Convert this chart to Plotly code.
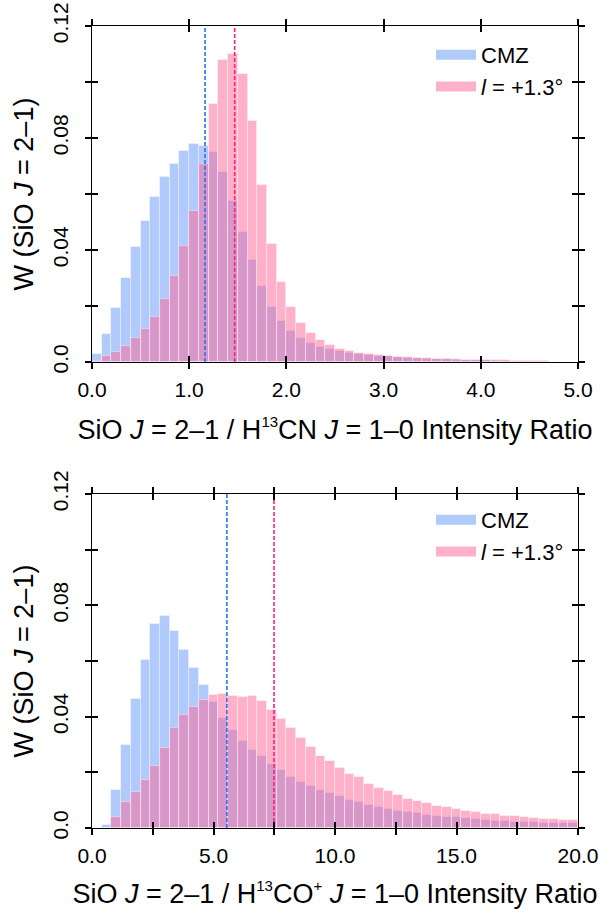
import plotly.graph_objects as go

# ---------------- data ----------------
top_bin_width = 0.1
top_bin_left = [round(0.1 * i, 1) for i in range(50)]
top_cmz = [0.0030, 0.0101, 0.0194, 0.0301, 0.0412, 0.0505, 0.0591, 0.0659, 0.0707, 0.0753,
           0.0778, 0.0772, 0.0750, 0.0679, 0.0574, 0.0465, 0.0363, 0.0272, 0.0197, 0.0145,
           0.0110, 0.0085, 0.0068, 0.0054, 0.0045, 0.0039, 0.0032, 0.0028, 0.0025, 0.0023,
           0.0020, 0.0018, 0.0016, 0.0014, 0.0012, 0.0010, 0.0009, 0.0008, 0.0008, 0.0007,
           0.0006, 0.0005, 0.0005, 0.0005, 0.0004, 0.0004, 0.0003, 0.0001, 0.0001, 0.0000]
top_l13 = [0.0002, 0.0020, 0.0036, 0.0057, 0.0085, 0.0117, 0.0161, 0.0224, 0.0306, 0.0414,
           0.0540, 0.0707, 0.0920, 0.1080, 0.1100, 0.1030, 0.0860, 0.0632, 0.0420, 0.0286,
           0.0197, 0.0138, 0.0102, 0.0077, 0.0060, 0.0048, 0.0038, 0.0031, 0.0028, 0.0026,
           0.0022, 0.0019, 0.0017, 0.0015, 0.0013, 0.0011, 0.0009, 0.0009, 0.0008, 0.0008,
           0.0006, 0.0006, 0.0006, 0.0005, 0.0005, 0.0005, 0.0004, 0.0001, 0.0001, 0.0000]
top_median_cmz = 1.163
top_median_l13 = 1.468

bot_bin_width = 0.4
bot_bin_left = [round(0.4 * i, 1) for i in range(50)]
bot_cmz = [0.0000, 0.0012, 0.0136, 0.0299, 0.0464, 0.0604, 0.0732, 0.0763, 0.0708, 0.0640,
           0.0574, 0.0512, 0.0453, 0.0396, 0.0351, 0.0313, 0.0281, 0.0257, 0.0231, 0.0209,
           0.0185, 0.0167, 0.0151, 0.0137, 0.0124, 0.0114, 0.0102, 0.0095, 0.0084, 0.0077,
           0.0069, 0.0062, 0.0057, 0.0054, 0.0048, 0.0044, 0.0041, 0.0038, 0.0035, 0.0031,
           0.0028, 0.0026, 0.0025, 0.0023, 0.0022, 0.0020, 0.0019, 0.0018, 0.0018, 0.0017]
bot_l13 = [0.0000, 0.0000, 0.0041, 0.0092, 0.0130, 0.0173, 0.0221, 0.0286, 0.0358, 0.0407,
           0.0435, 0.0461, 0.0477, 0.0482, 0.0475, 0.0470, 0.0475, 0.0457, 0.0425, 0.0391,
           0.0358, 0.0322, 0.0292, 0.0258, 0.0240, 0.0217, 0.0194, 0.0184, 0.0159, 0.0142,
           0.0133, 0.0118, 0.0104, 0.0097, 0.0089, 0.0080, 0.0074, 0.0068, 0.0061, 0.0057,
           0.0050, 0.0049, 0.0044, 0.0042, 0.0039, 0.0035, 0.0032, 0.0031, 0.0029, 0.0028]
bot_median_cmz = 5.55
bot_median_l13 = 7.49

top_xticks = [0, 1, 2, 3, 4, 5]
top_xticktext = ["0.0", "1.0", "2.0", "3.0", "4.0", "5.0"]
bot_xticks = [0, 2.5, 5, 7.5, 10, 12.5, 15, 17.5, 20]
bot_xticktext = ["0.0", " ", "5.0", " ", "10.0", " ", "15.0", " ", "20.0"]
yticks = [0, 0.02, 0.04, 0.06, 0.08, 0.10, 0.12]
yticktext = ["0.0", " ", "0.04", " ", "0.08", " ", "0.12"]

series_names = ["CMZ", "<i>l</i> = +1.3°"]

# ---------------- style ----------------
FONT = "Liberation Sans, Arial, Helvetica, sans-serif"
BLUE_FILL = "rgba(100,150,250,0.5)"
PINK_FILL = "rgba(255,100,150,0.5)"
BLUE_LINE = "#2a72f2"
PINK_LINE = "#ff1f78"
EDGE = "rgba(255,255,255,0.5)"

SUP = '<sup><span style="font-size:15px">{}</span></sup>'
top_title = ("SiO <i>J</i> = 2–1 / H" + SUP.format("13") +
             "CN <i>J</i> = 1–0 Intensity Ratio")
bot_title = ("SiO <i>J</i> = 2–1 / H" + SUP.format("13") + "CO" + SUP.format("+") +
             " <i>J</i> = 1–0 Intensity Ratio")
y_title = "W (SiO <i>J</i> = 2–1)"

fig = go.Figure()


def add_panel(xa, ya, left, width, cmz, l13, med_c, med_l, leg):
    centers = [l + width / 2 for l in left]
    fig.add_trace(go.Bar(x=centers, y=cmz, width=width, xaxis=xa, yaxis=ya,
                         marker=dict(color=BLUE_FILL, line=dict(color=EDGE, width=0.8)),
                         showlegend=False, hoverinfo="x+y"))
    fig.add_trace(go.Scatter(x=[med_c, med_c], y=[0, 0.12], mode="lines", xaxis=xa, yaxis=ya,
                             line=dict(color=BLUE_LINE, width=1.6, dash="4px,2px"),
                             showlegend=False))
    fig.add_trace(go.Bar(x=centers, y=l13, width=width, xaxis=xa, yaxis=ya,
                         marker=dict(color=PINK_FILL, line=dict(color=EDGE, width=0.8)),
                         showlegend=False, hoverinfo="x+y"))
    fig.add_trace(go.Scatter(x=[med_l, med_l], y=[0, 0.12], mode="lines", xaxis=xa, yaxis=ya,
                             line=dict(color=PINK_LINE, width=1.6, dash="4px,2px"),
                             showlegend=False))
    for name, col in zip(series_names, [BLUE_FILL, PINK_FILL]):
        fig.add_trace(go.Scatter(x=[None], y=[None], mode="lines", xaxis=xa, yaxis=ya,
                                 line=dict(color=col, width=10), name=name,
                                 showlegend=True, legend=leg))


add_panel("x", "y", top_bin_left, top_bin_width, top_cmz, top_l13,
          top_median_cmz, top_median_l13, "legend")
add_panel("x2", "y2", bot_bin_left, bot_bin_width, bot_cmz, bot_l13,
          bot_median_cmz, bot_median_l13, "legend2")

W, H = 600, 912
x_dom = [92 / W, 578 / W]
top_dom = [1 - 362 / H, 1 - 26 / H]
bot_dom = [1 - 828 / H, 1 - 494 / H]

tickfont = dict(family=FONT, size=21, color="black")
titlefont = dict(family=FONT, size=27, color="black")
legfont = dict(family=FONT, size=22, color="black")

common_x = dict(showline=True, linecolor="black", linewidth=1, mirror="ticks",
                ticks="outside", ticklen=6, tickwidth=2, tickcolor="black",
                showgrid=False, zeroline=False, tickmode="array", fixedrange=True,
                ticklabeloverflow="allow")
common_y = dict(showline=True, linecolor="black", linewidth=1, mirror="ticks",
                ticks="outside", ticklen=6, tickwidth=2, tickcolor="black",
                showgrid=False, zeroline=False, tickmode="array",
                tickvals=yticks, ticktext=yticktext, range=[0, 0.12],
                tickangle=-90, tickfont=tickfont, fixedrange=True,
                ticklabeloverflow="allow")

fig.update_layout(
    width=W, height=H,
    margin=dict(l=0, r=0, t=0, b=0, autoexpand=False),
    paper_bgcolor="white", plot_bgcolor="white",
    barmode="overlay", bargap=0,
    showlegend=True,
    xaxis=dict(common_x, domain=x_dom, anchor="y", range=[0, 5],
               tickvals=top_xticks, ticktext=top_xticktext, tickfont=tickfont,
               ticklabelstandoff=3,
               title=dict(text=top_title, font=titlefont, standoff=19)),
    yaxis=dict(common_y, domain=top_dom, anchor="x", ticklabelstandoff=9,
               title=dict(text=y_title, font=titlefont, standoff=7)),
    xaxis2=dict(common_x, domain=x_dom, anchor="y2", range=[0, 20],
                tickvals=bot_xticks, ticktext=bot_xticktext, tickfont=tickfont,
                ticklabelstandoff=3,
                title=dict(text=bot_title, font=titlefont, standoff=17)),
    yaxis2=dict(common_y, domain=bot_dom, anchor="x2", ticklabelstandoff=9,
                title=dict(text=y_title, font=titlefont, standoff=7)),
    # inside-tick overlays so ticks cross the frame
    xaxis3=dict(common_x, overlaying="x", anchor="y", range=[0, 5], ticks="inside",
                tickvals=top_xticks, showticklabels=False, side="bottom"),
    yaxis3=dict(common_y, overlaying="y", anchor="x", ticks="inside", showticklabels=False),
    xaxis4=dict(common_x, overlaying="x2", anchor="y2", range=[0, 20], ticks="inside",
                tickvals=bot_xticks, showticklabels=False, side="bottom"),
    yaxis4=dict(common_y, overlaying="y2", anchor="x2", ticks="inside", showticklabels=False),
    legend=dict(x=431 / W, y=1 - 34 / H, xanchor="left", yanchor="top",
                bgcolor="rgba(0,0,0,0)", font=legfont, itemwidth=40, tracegroupgap=0),
    legend2=dict(x=431 / W, y=1 - 499 / H, xanchor="left", yanchor="top",
                 bgcolor="rgba(0,0,0,0)", font=legfont, itemwidth=40, tracegroupgap=0),
)

# invisible traces so the overlay axes are drawn
fig.add_trace(go.Scatter(x=[None], y=[None], xaxis="x3", yaxis="y3", showlegend=False))
fig.add_trace(go.Scatter(x=[None], y=[None], xaxis="x4", yaxis="y4", showlegend=False))

# remove the browser's default body margin so the figure fills the window exactly
fig.write_html("out.html", config={"displayModeBar": False},
               post_script="document.body.style.margin='0';")
